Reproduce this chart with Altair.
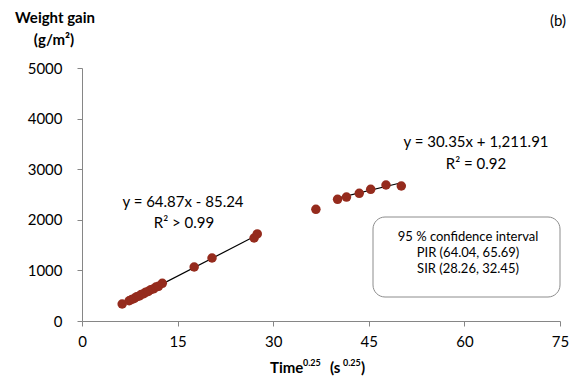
import altair as alt
import pandas as pd

# Measured data points (Time^0.25, weight gain g/m²)
x_pts = [6.3, 7.4, 7.8, 8.2, 8.6, 9.0, 9.3, 9.7, 10.0, 10.4, 10.8, 11.2, 11.6, 12.0, 12.6,
         17.6, 20.4, 27.0, 27.5,
         36.7, 40.1, 41.5, 43.5, 45.3, 47.7, 50.1]
y_pts = [336, 400, 425, 445, 480, 495, 525, 540, 570, 585, 620, 635, 670, 685, 745,
         1067, 1245, 1640, 1720,
         2207, 2405, 2450, 2523, 2602, 2688, 2668]

# Linear fits (PIR, SIR)
fit_names = ["PIR", "SIR"]
fit_slope = [64.87, 30.35]
fit_intercept = [-85.24, 1211.91]
fit_x0 = [6.3, 40.1]
fit_x1 = [27.6, 50.1]

x_ticks = [0, 15, 30, 45, 60, 75]
y_ticks = [0, 1000, 2000, 3000, 4000, 5000]

FONT = "Lato"
AX = "#868686"
RED = "#952B1D"

pts = pd.DataFrame({"x": x_pts, "y": y_pts})
rows = []
for n, s, b, a0, a1 in zip(fit_names, fit_slope, fit_intercept, fit_x0, fit_x1):
    rows.append({"fit": n, "x": a0, "s": s, "b": b})
    rows.append({"fit": n, "x": a1, "s": s, "b": b})
fits = pd.DataFrame(rows)

xs = alt.Scale(domain=[0, 75], nice=False, zero=False)
ys = alt.Scale(domain=[0, 5000], nice=False)

xaxis = alt.Axis(values=x_ticks, title=None, grid=False, domainColor=AX, tickColor=AX,
                 tickSize=5, labelFont=FONT, labelFontSize=15, labelColor="#000",
                 labelPadding=8, labelFlush=False, labelOverlap=False)
yaxis = alt.Axis(values=y_ticks, title=None, grid=False, domainColor=AX, tickColor=AX,
                 tickSize=5, labelFont=FONT, labelFontSize=15, labelColor="#000",
                 labelPadding=15, format="d")

points = alt.Chart(pts).mark_circle(size=90, color=RED, opacity=1).encode(
    x=alt.X("x:Q", scale=xs, axis=xaxis),
    y=alt.Y("y:Q", scale=ys, axis=yaxis),
)

lines = alt.Chart(fits).transform_calculate(
    yy="datum.s * datum.x + datum.b"
).mark_line(color="#000", strokeWidth=1.2).encode(
    x=alt.X("x:Q", scale=xs),
    y=alt.Y("yy:Q", scale=ys),
    detail="fit:N",
)

one = alt.Data(values=[{}])

box = alt.Chart(one).mark_rect(fill="white", stroke="#8c8c8c", strokeWidth=1,
                               cornerRadius=12).encode(
    x=alt.value(291), x2=alt.value(478), y=alt.value(149), y2=alt.value(229))


def txt(s, x, y, size=15, bold=False, align="center", baseline="middle"):
    return alt.Chart(one).mark_text(
        text=s, font=FONT, fontSize=size, fontWeight="bold" if bold else "normal",
        align=align, baseline=baseline, color="#000"
    ).encode(x=alt.value(x), y=alt.value(y))


texts = [
    txt("y = 64.87x - 85.24", 101, 134),
    txt("R² > 0.99", 102, 155),
    txt("y = 30.35x + 1,211.91", 394, 74),
    txt("R² = 0.92", 394, 96),
    txt("95 % confidence interval", 386, 169, size=13),
    txt("PIR (64.04, 65.69)", 386, 185, size=13),
    txt("SIR (28.26, 32.45)", 386, 201, size=13),
    txt("Weight gain", -27, -50, size=15, bold=True),
    txt("(g/m²)", -28, -28, size=15, bold=True),
    txt("(b)", 476, -47, size=15),
    # x-axis title with superscripts
    txt("Time", 188, 305, size=15, bold=True, align="left", baseline="alphabetic"),
    txt("0.25", 221, 298, size=9, bold=True, align="left", baseline="alphabetic"),
    txt("(s", 248, 305, size=15, bold=True, align="left", baseline="alphabetic"),
    txt("0.25", 261, 298, size=9, bold=True, align="left", baseline="alphabetic"),
    txt(")", 279, 305, size=15, bold=True, align="left", baseline="alphabetic"),
]

chart = alt.layer(lines, points, box, *texts).properties(
    width=478, height=253,
    padding={"left": 82, "top": 68, "right": 14, "bottom": 57},
    autosize="none",
    background="white",
).configure_view(stroke=None)

chart.save("out.html", embed_options={"renderer": "svg", "actions": False})
